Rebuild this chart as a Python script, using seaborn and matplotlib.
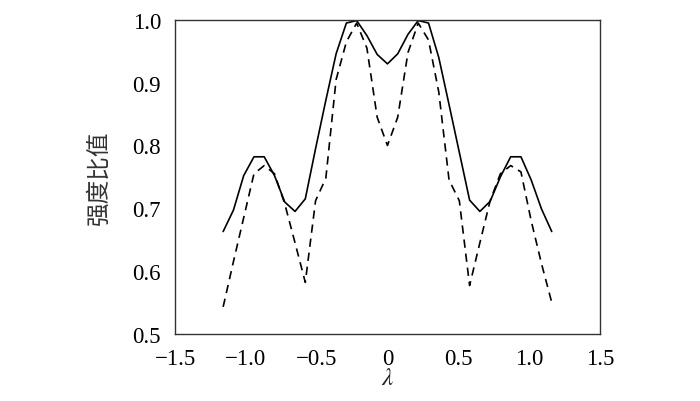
import numpy as np
import matplotlib
matplotlib.use("Agg")
import matplotlib.pyplot as plt
from matplotlib.ticker import FixedLocator, FixedFormatter
import seaborn as sns
import pandas as pd

# sample positions (lambda)
lam = [-1.16, -1.0875, -1.015, -0.9425, -0.87, -0.7975, -0.725, -0.6525,
       -0.58, -0.5075, -0.435, -0.3625, -0.29, -0.2175, -0.145, -0.0725,
       0.0,
       0.0725, 0.145, 0.2175, 0.29, 0.3625, 0.435, 0.5075, 0.58,
       0.6525, 0.725, 0.7975, 0.87, 0.9425, 1.015, 1.0875, 1.16]

# solid curve
ratio_a = [0.663, 0.697, 0.752, 0.782, 0.782, 0.752, 0.710, 0.695,
           0.715, 0.795, 0.872, 0.946, 0.995, 0.999, 0.975, 0.945,
           0.930,
           0.946, 0.977, 0.999, 0.995, 0.940, 0.865, 0.789, 0.713,
           0.695, 0.711, 0.750, 0.782, 0.782, 0.745, 0.699, 0.663]

# dashed curve
ratio_b = [0.543, 0.615, 0.685, 0.755, 0.768, 0.755, 0.707, 0.645,
           0.582, 0.712, 0.748, 0.905, 0.965, 0.995, 0.955, 0.845,
           0.800,
           0.845, 0.948, 0.995, 0.968, 0.885, 0.745, 0.712, 0.577,
           0.645, 0.712, 0.755, 0.768, 0.758, 0.680, 0.612, 0.550]

xticks = [-1.5, -1.0, -0.5, 0.0, 0.5, 1.0, 1.5]
xtick_labels = ["\u22121.5", "\u22121.0", "\u22120.5", "0", "0.5", "1.0", "1.5"]
yticks = [0.5, 0.6, 0.7, 0.8, 0.9, 1.0]
ytick_labels = ["0.5", "0.6", "0.7", "0.8", "0.9", "1.0"]

sns.set_theme(style="white")
plt.rcParams['font.family'] = ['Liberation Serif', 'Noto Sans CJK SC', 'DejaVu Sans']
plt.rcParams['mathtext.fontset'] = 'stix'

df = pd.DataFrame({'lam': lam, 'a': ratio_a, 'b': ratio_b})

fig = plt.figure(figsize=(7.0, 4.02), dpi=100)
ax = fig.add_axes([0.25, 0.167, 0.607, 0.781])

sns.lineplot(data=df, x='lam', y='a', ax=ax, color='black', linewidth=1.2,
             estimator=None, sort=False)
sns.lineplot(data=df, x='lam', y='b', ax=ax, color='black', linewidth=1.2,
             linestyle=(0, (5, 3.5)), estimator=None, sort=False)

ax.set_xlim(-1.5, 1.5)
ax.set_ylim(0.5, 1.0)
ax.xaxis.set_major_locator(FixedLocator(xticks))
ax.xaxis.set_major_formatter(FixedFormatter(xtick_labels))
ax.yaxis.set_major_locator(FixedLocator(yticks))
ax.yaxis.set_major_formatter(FixedFormatter(ytick_labels))
ax.tick_params(axis='both', direction='in', length=5, width=0.9,
               color='#333333', labelsize=16.5, labelcolor='black')
ax.tick_params(axis='x', pad=10)
ax.tick_params(axis='y', pad=10)

for s in ax.spines.values():
    s.set_color('#333333')
    s.set_linewidth(1.0)

ax.set_xlabel(r'$\lambda$', fontsize=18, labelpad=-1)
ax.set_ylabel('强度比值', fontsize=17, family=['Noto Sans CJK SC'],
              color='#333333', labelpad=16)

fig.savefig('out.png', dpi=100)
